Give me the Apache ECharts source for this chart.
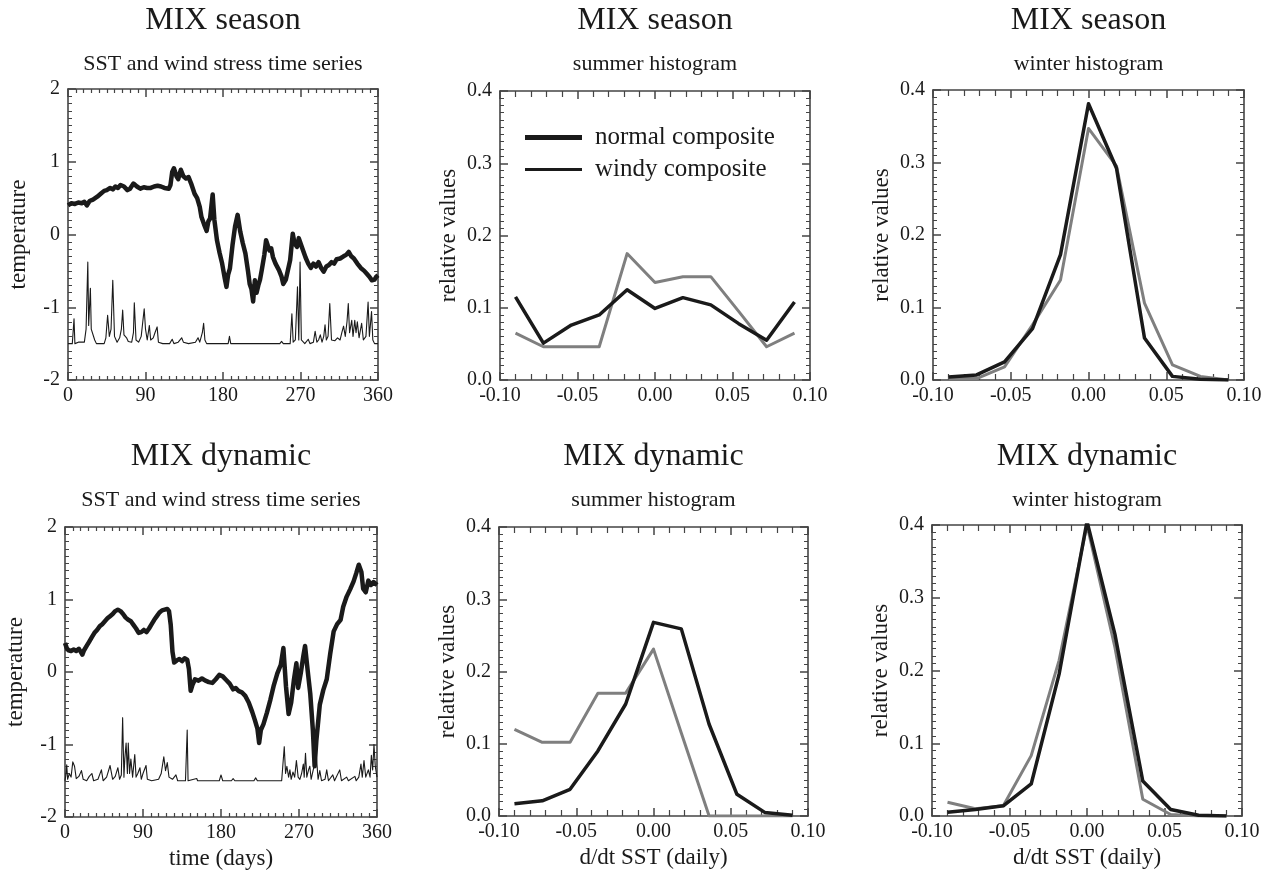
<!DOCTYPE html>
<html>
<head>
<meta charset="utf-8">
<title>MIX season / MIX dynamic</title>
<script src="https://cdn.jsdelivr.net/npm/echarts@6/dist/echarts.min.js"></script>
<style>
  html, body { margin: 0; padding: 0; background: #fff; }
  #chart { width: 1270px; height: 872px; }
</style>
</head>
<body>
<div id="chart"></div>
<script>
// --- data ---
const binCenters = [-0.09, -0.072, -0.054, -0.036, -0.018, 0, 0.018, 0.036, 0.054, 0.072, 0.09];

const seasonSummerNormal = [0.115, 0.051, 0.076, 0.090, 0.125, 0.099, 0.114, 0.104, 0.078, 0.055, 0.108];
const seasonSummerWindy  = [0.065, 0.046, 0.046, 0.046, 0.175, 0.135, 0.143, 0.143, 0.095, 0.046, 0.065];
const seasonWinterNormal = [0.004, 0.007, 0.025, 0.071, 0.173, 0.381, 0.292, 0.058, 0.005, 0.001, 0.0];
const seasonWinterWindy  = [0.002, 0.002, 0.018, 0.076, 0.138, 0.347, 0.295, 0.106, 0.021, 0.005, 0.0];
const dynSummerNormal    = [0.017, 0.021, 0.037, 0.090, 0.155, 0.268, 0.259, 0.127, 0.030, 0.005, 0.001];
const dynSummerWindy     = [0.120, 0.102, 0.102, 0.170, 0.170, 0.231, 0.115, 0.0, 0.0, 0.0, 0.0];
const dynWinterNormal    = [0.005, 0.009, 0.014, 0.044, 0.195, 0.405, 0.250, 0.048, 0.009, 0.001, 0.0];
const dynWinterWindy     = [0.019, 0.010, 0.014, 0.083, 0.214, 0.400, 0.232, 0.023, 0.002, 0.0, 0.0];

// [day, value]
const seasonSst = [[0,0.40],[4,0.43],[8,0.42],[12,0.44],[16,0.43],[19,0.45],[22,0.40],[25,0.46],[29,0.48],[34,0.52],[38,0.56],[42,0.60],[45,0.61],[49,0.64],[52,0.62],[55,0.66],[58,0.64],[61,0.68],[65,0.66],[69,0.61],[72,0.63],[76,0.70],[80,0.66],[84,0.63],[88,0.65],[92,0.64],[96,0.64],[100,0.66],[104,0.67],[108,0.66],[112,0.64],[117,0.63],[119,0.68],[121,0.86],[123,0.91],[126,0.80],[128,0.76],[131,0.89],[134,0.80],[137,0.77],[140,0.79],[143,0.70],[147,0.56],[150,0.50],[153,0.38],[155,0.24],[158,0.14],[161,0.05],[163,0.18],[165,0.22],[168,0.55],[170,0.20],[173,-0.08],[176,-0.25],[179,-0.40],[182,-0.60],[184,-0.72],[186,-0.55],[188,-0.47],[191,-0.15],[194,0.11],[197,0.27],[200,0.04],[203,-0.12],[206,-0.26],[209,-0.50],[211,-0.68],[213,-0.75],[215,-0.92],[217,-0.63],[219,-0.80],[221,-0.70],[223,-0.62],[225,-0.49],[228,-0.28],[230,-0.08],[232,-0.15],[234,-0.22],[236,-0.19],[238,-0.31],[241,-0.40],[245,-0.49],[248,-0.58],[250,-0.68],[253,-0.62],[255,-0.60],[258,-0.35],[261,0.01],[263,-0.12],[266,-0.17],[268,-0.05],[270,-0.07],[273,-0.22],[276,-0.32],[279,-0.40],[282,-0.46],[285,-0.40],[288,-0.44],[291,-0.38],[294,-0.46],[297,-0.51],[300,-0.44],[303,-0.42],[306,-0.38],[309,-0.40],[312,-0.34],[316,-0.33],[320,-0.30],[323,-0.28],[326,-0.24],[329,-0.30],[332,-0.33],[336,-0.40],[340,-0.46],[344,-0.50],[347,-0.54],[350,-0.58],[353,-0.63],[356,-0.62],[358,-0.58],[360,-0.56]];

const seasonWind = [[0,-1.5],[5,-1.5],[7,-1.16],[8,-1.5],[12,-1.48],[19,-1.48],[21,-1.3],[23,-0.38],[24,-1.25],[26,-0.74],[27,-1.3],[29,-1.32],[31,-1.45],[33,-1.5],[42,-1.5],[44,-1.42],[46,-1.11],[48,-1.4],[50,-1.3],[52,-0.63],[54,-1.4],[57,-1.48],[60,-1.42],[62,-1.3],[63.5,-1.04],[65,-1.38],[68,-1.42],[70,-1.47],[74,-1.48],[76,-1.35],[77,-0.94],[79,-1.45],[82,-1.48],[85,-1.40],[88.5,-1.02],[90,-1.3],[92,-1.45],[94.5,-1.25],[96,-1.45],[99,-1.42],[101,-1.35],[103.5,-1.27],[105,-1.48],[110,-1.5],[118,-1.5],[121,-1.44],[123,-1.5],[128,-1.48],[132,-1.42],[134,-1.48],[140,-1.5],[148,-1.48],[151,-1.42],[153,-1.48],[156,-1.35],[157.5,-1.22],[159,-1.45],[161,-1.5],[186,-1.5],[187.5,-1.40],[189,-1.5],[201,-1.5],[202,-1.48],[204,-1.5],[212,-1.5],[213,-1.48],[215,-1.5],[246,-1.5],[248,-1.47],[250,-1.5],[258,-1.5],[260,-1.09],[261.5,-1.48],[264,-1.45],[266.5,-0.72],[268,-1.45],[269.5,-0.38],[271,-1.45],[275,-1.5],[279,-1.44],[281,-1.5],[285,-1.48],[287,-1.33],[289,-1.48],[291,-1.45],[293,-1.38],[295,-1.48],[297,-1.4],[298.5,-1.24],[300,-1.45],[302,-1.4],[304,-0.95],[306,-1.45],[310,-1.46],[313,-1.42],[316,-1.45],[318,-1.35],[320,-1.26],[322,-1.4],[324,-1.2],[325.5,-0.95],[327,-1.35],[329.5,-1.18],[331,-1.4],[333,-1.18],[334.5,-1.35],[336,-1.2],[338,-1.42],[341,-1.22],[343,-1.45],[346,-1.4],[348.5,-0.93],[350,-1.4],[352.5,-1.06],[354,-1.45],[356,-1.5],[360,-1.5]];

const dynSst = [[0,0.40],[2,0.33],[4,0.30],[7,0.29],[10,0.31],[13,0.29],[16,0.32],[18,0.28],[20,0.24],[22,0.30],[25,0.36],[28,0.42],[31,0.48],[34,0.54],[37,0.58],[40,0.63],[43,0.66],[46,0.70],[49,0.74],[52,0.77],[55,0.80],[58,0.84],[61,0.86],[64,0.84],[67,0.80],[70,0.75],[73,0.72],[76,0.70],[79,0.65],[82,0.60],[85,0.54],[88,0.55],[91,0.58],[94,0.55],[97,0.60],[100,0.66],[103,0.72],[106,0.77],[109,0.82],[112,0.85],[115,0.86],[118,0.87],[120,0.84],[122,0.65],[124,0.28],[126,0.13],[129,0.16],[132,0.18],[135,0.15],[138,0.19],[141,0.17],[143,0.04],[145,-0.26],[147,-0.18],[150,-0.10],[154,-0.12],[158,-0.09],[162,-0.12],[166,-0.14],[170,-0.15],[174,-0.10],[178,-0.04],[182,-0.06],[186,-0.11],[190,-0.16],[194,-0.24],[197,-0.22],[200,-0.26],[204,-0.28],[208,-0.33],[212,-0.42],[216,-0.55],[219,-0.66],[222,-0.78],[224,-0.98],[226,-0.80],[229,-0.72],[233,-0.56],[237,-0.38],[241,-0.18],[245,-0.02],[249,0.10],[252,0.33],[255,-0.20],[258,-0.58],[261,-0.42],[264,-0.12],[267,0.12],[269,-0.22],[272,-0.02],[275,0.22],[277,0.36],[280,0.02],[283,-0.30],[286,-0.80],[288,-1.30],[290,-0.95],[292,-0.70],[294,-0.45],[298,-0.25],[302,-0.10],[306,0.25],[310,0.56],[314,0.66],[318,0.72],[321,0.90],[325,1.04],[329,1.14],[333,1.25],[336,1.36],[339,1.48],[342,1.38],[344,1.15],[347,1.10],[350,1.26],[353,1.20],[356,1.24],[360,1.20]];

const dynWind = [[0,-1.5],[1,-1.42],[2,-1.28],[3,-1.48],[5,-1.40],[7,-1.45],[9,-1.24],[11,-1.3],[13,-1.47],[16,-1.44],[19,-1.36],[21,-1.48],[25,-1.5],[28,-1.44],[31,-1.40],[33,-1.5],[38,-1.48],[42,-1.35],[44,-1.5],[48,-1.45],[52,-1.29],[55,-1.48],[58,-1.44],[61,-1.32],[63,-1.48],[65,-1.42],[66.5,-0.63],[68,-1.45],[69,-1.2],[70.5,-0.98],[72,-1.4],[73,-0.98],[74.5,-1.4],[76,-1.2],[78,-1.45],[80.5,-1.14],[82,-1.45],[84,-1.4],[86.5,-1.32],[88,-1.48],[90,-1.40],[93.5,-1.29],[95,-1.48],[100,-1.5],[108,-1.48],[111,-1.4],[114,-1.17],[116,-1.36],[118,-1.25],[120,-1.45],[124,-1.48],[128,-1.42],[130,-1.5],[139,-1.5],[141,-0.80],[142,-1.5],[152,-1.47],[153,-1.5],[178,-1.5],[180,-1.42],[182,-1.5],[192,-1.5],[194,-1.47],[196,-1.5],[218,-1.5],[220,-1.46],[222,-1.5],[250,-1.5],[251,-1.48],[253,-1.03],[254.5,-1.4],[256,-1.3],[258,-1.45],[259.5,-1.35],[261,-1.48],[263,-1.38],[265,-1.45],[267,-1.22],[269,-1.45],[271,-1.48],[273,-1.4],[275,-1.27],[276,-1.45],[277.5,-1.12],[279,-1.45],[281,-1.35],[282.5,-1.3],[284,-1.48],[287,-1.32],[290,-1.15],[292,-1.48],[294,-1.36],[296,-1.5],[300,-1.48],[302,-1.35],[304,-1.5],[309,-1.42],[311,-1.5],[317,-1.35],[319,-1.5],[325,-1.45],[327,-1.5],[334.5,-1.44],[336,-1.5],[339,-1.45],[341.5,-1.27],[343,-1.45],[345,-1.22],[347,-1.45],[350,-1.35],[352,-1.45],[353.5,-1.15],[355,-1.35],[356.5,-1.00],[358,-1.3],[360,-1.45]];

const titles = ['MIX season', 'MIX season', 'MIX season', 'MIX dynamic', 'MIX dynamic', 'MIX dynamic'];
const subtitles = ['SST and wind stress time series', 'summer histogram', 'winter histogram',
                   'SST and wind stress time series', 'summer histogram', 'winter histogram'];

// --- layout / style ---
const FONT = '"Liberation Serif", "DejaVu Serif", serif';
const INK = '#1a1a1a';
const GREY = '#7f7f7f';
const AXIS = '#444';

const grids = [
    { left: 68,  top: 89,  width: 310, height: 291 },
    { left: 500, top: 91,  width: 310, height: 289 },
    { left: 933, top: 90,  width: 311, height: 290 },
    { left: 65,  top: 527, width: 312, height: 290 },
    { left: 499, top: 527, width: 309, height: 289 },
    { left: 932, top: 525, width: 310, height: 291 }
];

const pair = (xs, ys) => xs.map((x, i) => [x, ys[i]]);

const xAxes = [];
const yAxes = [];

// 每个面板四条轴：下/上、左/右，刻度朝内
const addBox = (gi, kind, xName) => {
    const ts = kind === 'ts';
    const xBase = {
        gridIndex: gi, type: 'value',
        min: ts ? 0 : -0.1, max: ts ? 360 : 0.1, interval: ts ? 90 : 0.05,
        axisLine: { show: true, onZero: false, lineStyle: { color: AXIS, width: 1.6 } },
        axisTick: { show: true, inside: true, length: 8, lineStyle: { color: AXIS, width: 1.5 } },
        minorTick: { show: true, splitNumber: ts ? 10 : 5, length: ts ? 4 : 6, lineStyle: { color: AXIS, width: 1.2 } },
        splitLine: { show: false }
    };
    const yBase = {
        gridIndex: gi, type: 'value',
        min: ts ? -2 : 0, max: ts ? 2 : 0.4, interval: ts ? 1 : 0.1,
        axisLine: { show: true, onZero: false, lineStyle: { color: AXIS, width: 1.6 } },
        axisTick: { show: true, inside: true, length: 8, lineStyle: { color: AXIS, width: 1.5 } },
        minorTick: { show: true, splitNumber: 10, length: 4, lineStyle: { color: AXIS, width: 1 } },
        splitLine: { show: false }
    };
    xAxes.push(Object.assign({}, xBase, {
        position: 'bottom',
        axisLabel: {
            show: true, margin: 6, color: INK, fontFamily: FONT, fontSize: 20,
            formatter: v => ts ? String(Math.round(v)) : v.toFixed(2)
        },
        name: xName || '', nameLocation: 'middle', nameGap: 30,
        nameTextStyle: { color: INK, fontFamily: FONT, fontSize: 23 }
    }));
    xAxes.push(Object.assign({}, xBase, { position: 'top', axisLabel: { show: false } }));
    yAxes.push(Object.assign({}, yBase, {
        position: 'left',
        axisLabel: {
            show: true, margin: 8, color: INK, fontFamily: FONT, fontSize: 20,
            formatter: v => ts ? String(Math.round(v)) : v.toFixed(1)
        },
        name: ts ? 'temperature' : 'relative values', nameLocation: 'middle', nameGap: ts ? 38 : 40,
        nameTextStyle: { color: INK, fontFamily: FONT, fontSize: 23 }
    }));
    yAxes.push(Object.assign({}, yBase, { position: 'right', axisLabel: { show: false } }));
};

addBox(0, 'ts');
addBox(1, 'hist');
addBox(2, 'hist');
addBox(3, 'ts', 'time (days)');
addBox(4, 'hist', 'd/dt SST (daily)');
addBox(5, 'hist', 'd/dt SST (daily)');

const series = [];
const addLine = (gi, name, data, color, width) => {
    series.push({
        name, type: 'line', xAxisIndex: gi * 2, yAxisIndex: gi * 2,
        data, symbol: 'none', silent: true, animation: false,
        lineStyle: { color, width, join: 'round' }, itemStyle: { color }
    });
};

addLine(0, 'wind', seasonWind, INK, 1.1);
addLine(0, 'SST', seasonSst, INK, 4.5);
addLine(1, 'windy composite', pair(binCenters, seasonSummerWindy), GREY, 3);
addLine(1, 'normal composite', pair(binCenters, seasonSummerNormal), INK, 3.5);
addLine(2, 'windy composite', pair(binCenters, seasonWinterWindy), GREY, 3);
addLine(2, 'normal composite', pair(binCenters, seasonWinterNormal), INK, 3.5);
addLine(3, 'wind', dynWind, INK, 1.1);
addLine(3, 'SST', dynSst, INK, 4.5);
addLine(4, 'windy composite', pair(binCenters, dynSummerWindy), GREY, 3);
addLine(4, 'normal composite', pair(binCenters, dynSummerNormal), INK, 3.5);
addLine(5, 'windy composite', pair(binCenters, dynWinterWindy), GREY, 3);
addLine(5, 'normal composite', pair(binCenters, dynWinterNormal), INK, 3.5);

// --- 标题 ---
const graphic = [];
grids.forEach((g, i) => {
    const cx = g.left + g.width / 2;
    const row = i < 3 ? 0 : 1;
    graphic.push({
        type: 'text', x: cx, y: row ? 457 : 21,
        style: { text: titles[i], font: '32px ' + FONT, fill: INK, align: 'center', verticalAlign: 'middle',
                 textAlign: 'center', textVerticalAlign: 'middle' }
    });
    graphic.push({
        type: 'text', x: cx, y: row ? 500 : 64,
        style: { text: subtitles[i], font: '22px ' + FONT, fill: INK, align: 'center', verticalAlign: 'middle',
                 textAlign: 'center', textVerticalAlign: 'middle' }
    });
});

const legendText = { color: INK, fontFamily: FONT, fontSize: 25, padding: [0, 0, 0, 8] };
const option = {
    backgroundColor: '#fff',
    animation: false,
    grid: grids.map(g => Object.assign({ containLabel: false }, g)),
    xAxis: xAxes,
    yAxis: yAxes,
    series,
    legend: [
        { left: 520, top: 120, selectedMode: false, icon: 'rect', itemWidth: 57, itemHeight: 5,
          data: [{ name: 'normal composite', itemStyle: { color: INK } }], textStyle: legendText },
        { left: 520, top: 152, selectedMode: false, icon: 'rect', itemWidth: 57, itemHeight: 3,
          data: [{ name: 'windy composite', itemStyle: { color: INK } }], textStyle: legendText }
    ],
    graphic
};

const myChart = echarts.init(document.getElementById('chart'), null, { renderer: 'canvas' });
myChart.setOption(option);
</script>
</body>
</html>
